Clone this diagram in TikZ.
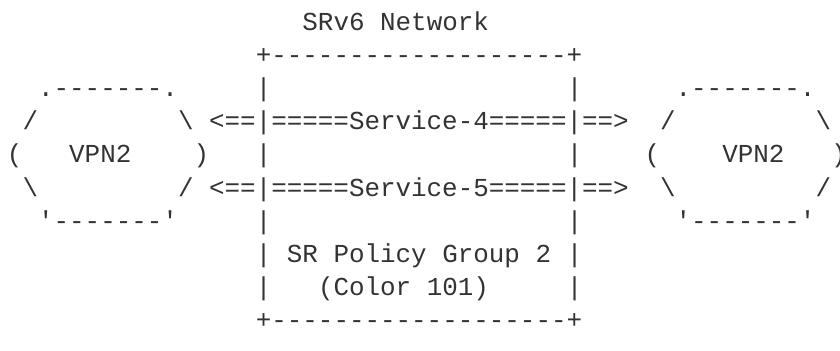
\documentclass[tikz,border=0pt]{standalone}
\usepackage{fontspec}
\setmonofont{Liberation Mono}
\definecolor{ink}{HTML}{333333}
\begin{document}
\begin{tikzpicture}[x=15.55pt, y=-33.2pt,
  txt/.style={anchor=base west, inner sep=0pt, outer sep=0pt, text=ink,
    font=\ttfamily\fontsize{25.9pt}{33pt}\selectfont}]
\useasboundingbox[fill=white] (-0.450,0.0964) rectangle (53.569,10.639);
% row 1
\node[txt] (title) at (19,1) {SRv6 Network};
% row 2
\node[txt] (boxtop) at (16,2) {+-------------------+};
% row 3
\node[txt] (ltop) at (2,3) {.-------.};
\node[txt] (bl3) at (16,3) {|};
\node[txt] (br3) at (36,3) {|};
\node[txt] (rtop) at (43,3) {.-------.};
% row 4
\node[txt] (lul) at (1,4) {/};
\node[txt] (lur) at (11,4) {\char`\\};
\node[txt] (svc4) at (13,4) {<==|=====Service-4=====|==>};
\node[txt] (rul) at (42,4) {/};
\node[txt] (rur) at (52,4) {\char`\\};
% row 5
\node[txt] (lpo) at (0,5) {(};
\node[txt] (lvpn) at (4,5) {VPN2};
\node[txt] (lpc) at (12,5) {)};
\node[txt] (bl5) at (16,5) {|};
\node[txt] (br5) at (36,5) {|};
\node[txt] (rpo) at (41,5) {(};
\node[txt] (rvpn) at (46,5) {VPN2};
\node[txt] (rpc) at (53,5) {)};
% row 6
\node[txt] (lll) at (1,6) {\char`\\};
\node[txt] (llr) at (11,6) {/};
\node[txt] (svc5) at (13,6) {<==|=====Service-5=====|==>};
\node[txt] (rll) at (42,6) {\char`\\};
\node[txt] (rlr) at (52,6) {/};
% row 7
\node[txt] (lbot) at (2,7) {'-------'};
\node[txt] (bl7) at (16,7) {|};
\node[txt] (br7) at (36,7) {|};
\node[txt] (rbot) at (43,7) {'-------'};
% row 8
\node[txt] (bl8) at (16,8) {|};
\node[txt] (policy) at (18,8) {SR Policy Group 2};
\node[txt] (br8) at (36,8) {|};
% row 9
\node[txt] (bl9) at (16,9) {|};
\node[txt] (color) at (20,9) {(Color 101)};
\node[txt] (br9) at (36,9) {|};
% row 10
\node[txt] (boxbot) at (16,10) {+-------------------+};
\end{tikzpicture}
\end{document}
